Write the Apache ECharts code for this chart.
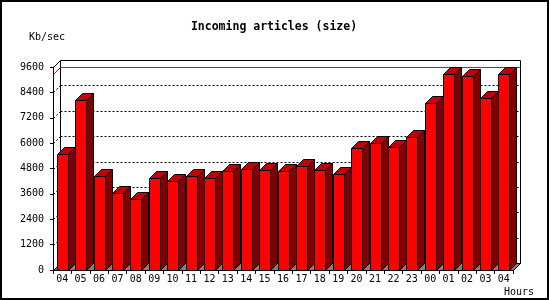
<!DOCTYPE html>
<html><head><meta charset="utf-8">
<script src="https://cdn.jsdelivr.net/npm/echarts@6/dist/echarts.min.js"></script>
<style>html,body{margin:0;padding:0;background:#fff}#c{width:550px;height:300px}</style>
</head><body><div id="c"></div>
<script>
const hours = ['04','05','06','07','08','09','10','11','12','13','14','15','16','17','18','19','20','21','22','23','00','01','02','03','04'];
const sizeKb = [5500,8020,4430,3665,3380,4370,4230,4430,4330,4700,4800,4750,4660,4940,4750,4560,5770,6020,5835,6310,7910,9280,9185,8150,9280];
const yTicks = [0,1200,2400,3600,4800,6000,7200,8400,9600];
const titleText = 'Incoming articles (size)';
const yUnit = 'Kb/sec';
const xUnit = 'Hours';

const DEPTH = 7;
const FONT = "'DejaVu Sans Mono', 'Liberation Mono', monospace";
const yMax = yTicks[yTicks.length - 1];
const maxVal = Math.max.apply(null, sizeKb);
const px = v => Math.round(v) + 0.5;

function renderFrame(params, api) {
  const cs = params.coordSys;
  const d = DEPTH;
  const x0 = px(cs.x), x1 = px(cs.x + cs.width);
  const yb = px(api.coord([0, 0])[1]);
  const yt = px(api.coord([0, yMax])[1]);
  const ch = [];
  ch.push({type:'rect', shape:{x:x0 + d, y:yt - d, width:x1 - x0, height:yb - yt}, style:{fill:'#fff', stroke:'#000', lineWidth:1}});
  ch.push({type:'polygon', shape:{points:[[x0,yb],[x1,yb],[x1+d,yb-d],[x0+d,yb-d]]}, style:{fill:'#808080', stroke:'#000', lineWidth:1}});
  yTicks.forEach(v => {
    if (v === 0 || v === yMax) return;
    const y = px(api.coord([0, v])[1]);
    ch.push({type:'line', shape:{x1:x0 + d, y1:y - d, x2:x1 + d, y2:y - d}, style:{stroke:'#000', lineWidth:1, lineDash:[2,2]}});
    ch.push({type:'line', shape:{x1:x0, y1:y, x2:x0 + d, y2:y - d}, style:{stroke:'#000', lineWidth:1, lineDash:[2,2]}});
  });
  const ym = px(api.coord([0, maxVal])[1]);
  ch.push({type:'line', shape:{x1:x0 + d, y1:ym - d, x2:x1 + d, y2:ym - d}, style:{stroke:'#ff0000', lineWidth:1}});
  ch.push({type:'line', shape:{x1:x0, y1:ym, x2:x0 + d, y2:ym - d}, style:{stroke:'#ff0000', lineWidth:1}});
  ch.push({type:'line', shape:{x1:x0, y1:yt, x2:x0 + d, y2:yt - d}, style:{stroke:'#000', lineWidth:1}});
  return {type:'group', children:ch};
}

function renderBar(params, api) {
  const i = api.value(0), v = api.value(1);
  const top = api.coord([i, v]);
  const base = api.coord([i, 0]);
  const bw = api.size([1, 0])[0];
  const fw = Math.round(bw * 0.6);
  const xl = px(top[0] - fw / 2), xr = xl + fw;
  const yt = px(top[1]), yb = px(base[1]);
  const d = DEPTH;
  return {type:'group', children:[
    {type:'polygon', shape:{points:[[xr,yt],[xr+d,yt-d],[xr+d,yb-d],[xr,yb]]}, style:{fill:'#800000', stroke:'#000', lineWidth:1}},
    {type:'polygon', shape:{points:[[xl,yt],[xl+d,yt-d],[xr+d,yt-d],[xr,yt]]}, style:{fill:'#c00000', stroke:'#000', lineWidth:1}},
    {type:'rect', shape:{x:xl, y:yt, width:fw, height:yb - yt}, style:{fill:'#ff0000', stroke:'#000', lineWidth:1}}
  ]};
}

const chart = echarts.init(document.getElementById('c'), null, {renderer:'canvas'});
chart.setOption({
  animation:false,
  backgroundColor:'#fff',
  grid:{left:53, right:37, top:67, bottom:30, containLabel:false},
  xAxis:{type:'category', data:hours, boundaryGap:true,
    axisLine:{lineStyle:{color:'#000', width:1}},
    axisTick:{show:true, length:4, inside:false, lineStyle:{color:'#000'}},
    axisLabel:{interval:0, margin:4, color:'#000', fontFamily:FONT, fontSize:10},
    splitLine:{show:false}},
  yAxis:{type:'value', min:0, max:yMax, interval:1200,
    axisLine:{show:true, lineStyle:{color:'#000', width:1}},
    axisTick:{show:true, length:3, lineStyle:{color:'#000'}},
    axisLabel:{margin:9, color:'#000', fontFamily:FONT, fontSize:10, formatter:v => String(v)},
    splitLine:{show:false}},
  series:[
    {type:'custom', renderItem:renderFrame, data:[[0,0]], clip:false, silent:true, z:1},
    {type:'custom', renderItem:renderBar, data:sizeKb.map((v,i)=>[i,v]), clip:false, z:2}
  ],
  graphic:[
    {type:'rect', shape:{x:1, y:1, width:547, height:298}, style:{fill:'none', stroke:'#000', lineWidth:2}, silent:true},
    {type:'text', x:274, y:27, style:{text:titleText, font:"bold 11.5px 'DejaVu Sans Mono', monospace", fill:'#000', textAlign:'center', textVerticalAlign:'middle'}},
    {type:'text', x:29, y:37, style:{text:yUnit, font:"10px 'DejaVu Sans Mono', monospace", fill:'#000', textAlign:'left', textVerticalAlign:'middle'}},
    {type:'text', x:504, y:292, style:{text:xUnit, font:"10px 'DejaVu Sans Mono', monospace", fill:'#000', textAlign:'left', textVerticalAlign:'middle'}}
  ]
});
</script>
</body></html>
